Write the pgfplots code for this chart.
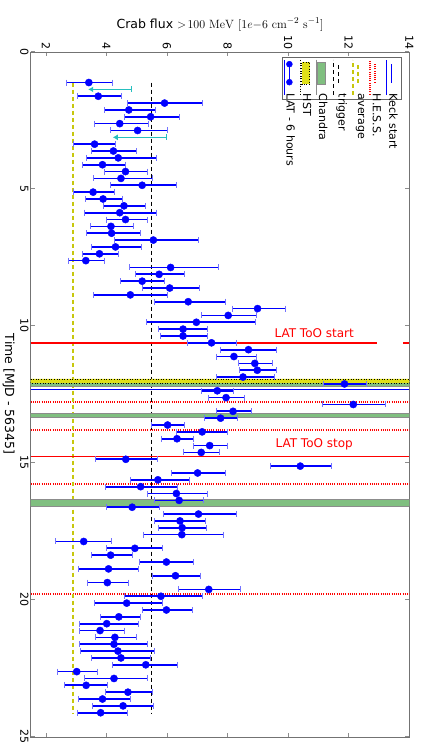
\documentclass[border=0pt]{standalone}
\usepackage[no-math]{fontspec}
\setmainfont{DejaVu Sans}
\usepackage{pgfplots}
\usepackage{pgfplotstable}
\pgfplotsset{compat=1.18}
\usetikzlibrary{arrows.meta}

\definecolor{avgyellow}{rgb}{0.78,0.78,0.05}
\definecolor{hstyellow}{rgb}{0.88,0.88,0.1}
\definecolor{chandra}{rgb}{0.50,0.75,0.50}
\definecolor{ulcyan}{rgb}{0.15,0.75,0.75}
\definecolor{capblue}{rgb}{0.45,0.45,1.0}

\newcommand{\legx}{5pt}
\pgfplotsset{
  vline legend/.style={legend image code/.code={
    \path (0pt,0pt) -- (0pt,35pt);
    \draw[overlay] (\legx,12pt) -- (\legx,31pt);}},
  vbox legend/.style={legend image code/.code={
    \path (0pt,0pt) -- (0pt,35pt);
    \draw[overlay] (\legx-4pt,10.5pt) rectangle (\legx+4pt,32.5pt);}},
}

\pgfplotstableread{
t f lo hi
1.125 3.42 2.68 4.19
1.625 3.73 3.05 4.48
1.875 5.92 4.69 7.17
2.125 4.74 3.94 5.61
2.375 5.46 4.60 6.40
2.625 4.44 3.60 5.38
2.875 5.03 4.14 6.03
3.375 3.61 2.90 4.30
3.625 4.23 3.51 4.99
3.875 4.39 3.33 5.64
4.125 3.87 3.21 4.63
4.375 4.63 3.94 5.36
4.625 4.48 3.56 5.51
4.875 5.18 4.14 6.30
5.125 3.56 2.90 4.25
5.375 3.89 3.30 4.53
5.625 4.58 3.89 5.30
5.875 4.44 3.27 5.64
6.125 4.63 3.99 5.36
6.375 4.15 3.46 4.90
6.625 4.17 3.35 5.11
6.875 5.55 4.25 7.03
7.125 4.30 3.52 5.15
7.375 3.77 3.22 4.40
7.625 3.32 2.74 3.92
7.875 6.12 4.75 7.71
8.125 5.74 4.95 6.57
8.375 5.18 4.47 5.91
8.625 6.09 5.20 7.07
8.875 4.79 3.56 6.02
9.125 6.70 5.58 7.93
9.375 8.99 8.15 9.90
9.625 8.02 7.15 8.95
9.875 6.97 5.32 8.92
10.125 6.53 5.71 7.35
10.375 6.53 5.77 7.32
10.625 7.47 6.67 8.28
10.875 8.69 7.76 9.61
11.125 8.21 7.63 8.96
11.375 8.90 8.37 9.47
11.625 8.98 8.38 9.61
11.875 8.51 7.63 9.55
12.125 11.86 11.17 12.57
12.375 7.66 7.15 8.21
12.625 7.95 7.37 8.56
12.875 12.15 11.12 13.21
13.125 8.18 7.62 8.80
13.375 7.77 7.25 8.33
13.625 6.02 5.50 6.57
13.875 7.16 6.32 7.99
14.125 6.33 5.81 6.86
14.375 7.41 6.87 7.98
14.625 7.13 6.54 7.73
14.875 4.64 3.63 5.69
15.125 10.40 9.42 11.42
15.375 7.01 6.15 7.93
15.625 5.70 4.80 6.73
15.875 5.13 3.97 6.36
16.125 6.31 5.34 7.33
16.375 6.40 5.60 7.20
16.625 4.85 4.01 5.75
16.875 7.04 5.88 8.30
17.125 6.43 5.60 7.26
17.375 6.50 5.71 7.30
17.625 6.49 5.23 7.86
17.875 3.25 2.33 4.16
18.125 4.94 4.01 5.85
18.375 4.14 3.52 4.87
18.625 5.98 5.10 6.88
18.875 4.07 3.09 5.05
19.125 6.28 5.51 7.11
19.375 4.03 3.38 4.73
19.625 7.38 6.37 8.42
19.875 5.80 4.59 7.16
20.125 4.67 3.61 5.85
20.375 5.98 5.18 6.83
20.625 4.41 3.79 5.12
20.875 4.01 3.11 5.06
21.125 3.79 3.11 4.60
21.375 4.28 3.64 4.99
21.625 4.25 3.11 5.35
21.875 4.38 3.15 5.59
22.125 4.48 3.52 5.44
22.375 5.30 4.19 6.34
22.625 3.02 2.37 3.71
22.875 4.25 3.29 5.35
23.125 3.33 2.62 4.03
23.375 4.71 3.98 5.51
23.625 3.87 3.09 4.78
23.875 4.55 3.53 5.56
24.125 3.81 3.05 4.69
}\lat

\begin{document}
\begin{tikzpicture}
\begin{axis}[
  scale only axis,
  width=378.6pt, height=685pt,
  xmin=1.5, xmax=14, ymin=0, ymax=25,
  y dir=reverse,
  xtick={2,4,...,14},
  ytick={0,5,...,25},
  xticklabel pos=right,
  /pgf/number format/assume math mode=true,
  ticklabel style={font=\fontsize{11}{12}\selectfont},
  xticklabel style={rotate=-90, anchor=east, inner sep=2pt},
  yticklabel style={rotate=-90, anchor=north, inner sep=2pt},
  xlabel={Crab flux $>\!100\ \mathrm{MeV}\ [1e{-}6\ \mathrm{cm}^{-2}\ \mathrm{s}^{-1}]$},
  ylabel={Time [MJD - 56345]},
  label style={font=\fontsize{12.5}{14}\selectfont},
  xlabel style={at={(axis description cs:0.5,1)}, anchor=south, yshift=17pt},
  ylabel style={rotate=180},
  axis line style={black!55},
  tick style={black!45, line width=0.5pt},
  major tick length=4pt,
  legend columns=-1,
  reverse legend,
  legend style={at={(axis description cs:0.979,0.992)}, anchor=north east,
    font=\fontsize{11}{12}\selectfont, draw=black!60, inner sep=1.5pt,
    /tikz/every even column/.style={column sep=3.2pt}},
]
% Keck start
\addplot[blue, line width=0.8pt, vline legend] coordinates {(1.5,12.31) (14,12.31)};
\addlegendentry{\rotatebox{-90}{Keck start}}
% H.E.S.S.
\addplot[red, line width=1.4pt, dash pattern=on 1pt off 1.2pt, vline legend] coordinates {(1.5,12.78) (14,12.78)};
\addlegendentry{\rotatebox{-90}{H.E.S.S.}}
\addplot[red, line width=1.4pt, dash pattern=on 1pt off 1.2pt, forget plot] coordinates {(1.5,13.81) (14,13.81)};
\addplot[red, line width=1.4pt, dash pattern=on 1pt off 1.2pt, forget plot] coordinates {(1.5,15.78) (14,15.78)};
\addplot[red, line width=1.4pt, dash pattern=on 1pt off 1.2pt, forget plot] coordinates {(1.5,19.79) (14,19.79)};
% average
\addplot[avgyellow, line width=1.6pt, dash pattern=on 4pt off 3pt, vline legend] coordinates {(2.89,1.125) (2.89,24.125)};
\addlegendentry{\rotatebox{-90}{average}}
% trigger
\addplot[black, line width=1.6pt, dash pattern=on 4pt off 3pt, vline legend] coordinates {(5.49,1.125) (5.49,24.125)};
\addlegendentry{\rotatebox{-90}{trigger}}
% Chandra
\addplot[fill=chandra, draw=black!45, line width=0.6pt, vbox legend] coordinates {(1.5,11.97) (14,11.97) (14,12.2) (1.5,12.2) (1.5,11.97)};
\addlegendentry{\rotatebox{-90}{Chandra}}
\addplot[fill=chandra, draw=black!45, line width=0.6pt, forget plot] coordinates {(1.5,13.19) (14,13.19) (14,13.34) (1.5,13.34) (1.5,13.19)};
\addplot[fill=chandra, draw=black!45, line width=0.6pt, forget plot] coordinates {(1.5,16.33) (14,16.33) (14,16.58) (1.5,16.58) (1.5,16.33)};
% HST
\addplot[fill=hstyellow, draw=black, line width=0.6pt, dotted, vbox legend] coordinates {(1.5,11.94) (14,11.94) (14,12.09) (1.5,12.09) (1.5,11.94)};
\addlegendentry{\rotatebox{-90}{HST}}
% LAT ToO lines
\addplot[red, line width=1.2pt, forget plot] coordinates {(1.5,10.63) (12.94,10.63)};
\addplot[red, line width=1.2pt, forget plot] coordinates {(13.8,10.63) (14,10.63)};
\addplot[red, line width=1.2pt, forget plot] coordinates {(1.5,14.76) (14,14.76)};
% upper limits
\addplot[ulcyan, line width=1.4pt, forget plot, arrows={Bar[width=6pt,line width=0.8pt]-Latex[length=5pt,width=6pt]}] coordinates {(4.83,1.375) (3.40,1.375)};
\addplot[ulcyan, line width=1.4pt, forget plot, arrows={Bar[width=6pt,line width=0.8pt]-Latex[length=5pt,width=6pt]}] coordinates {(6.01,3.125) (4.21,3.125)};
% error bar caps
\addplot[capblue, only marks, mark=|, mark size=3pt, mark options={line width=0.9pt}, forget plot] table[x=lo, y=t] {\lat};
\addplot[capblue, only marks, mark=|, mark size=3pt, mark options={line width=0.9pt}, forget plot] table[x=hi, y=t] {\lat};
% error bars (horizontal segments lo -> hi)
\addplot[draw=blue, line width=1.7pt, no markers, forget plot,
  quiver={u=\thisrow{hi}-\thisrow{lo}, v=0}] table[x=lo, y=t] {\lat};
% LAT - 6 hours
\addplot[blue, only marks, mark=*, mark size=3.6pt,
  legend image code/.code={
    \path (0pt,0pt) -- (0pt,35pt);
    \draw[overlay, blue, line width=1.5pt] (\legx,12.5pt) -- (\legx,30.5pt);
    \fill[overlay, blue] (\legx,12.5pt) circle (3pt);
    \fill[overlay, blue] (\legx,30.5pt) circle (3pt);}]
  table[x=f, y=t] {\lat};
\addlegendentry{\rotatebox{-90}{LAT - 6 hours}}
% labels
\node[red, font=\fontsize{12}{14}\selectfont] at (axis cs:10.86,10.27) {LAT ToO start};
\node[red, font=\fontsize{12}{14}\selectfont] at (axis cs:10.86,14.32) {LAT ToO stop};
\end{axis}
\pgfresetboundingbox
\path ([xshift=-30.7pt, yshift=51.7pt]current axis.north west) rectangle ([xshift=11.7pt, yshift=-5.3pt]current axis.south east);
\end{tikzpicture}
\end{document}
